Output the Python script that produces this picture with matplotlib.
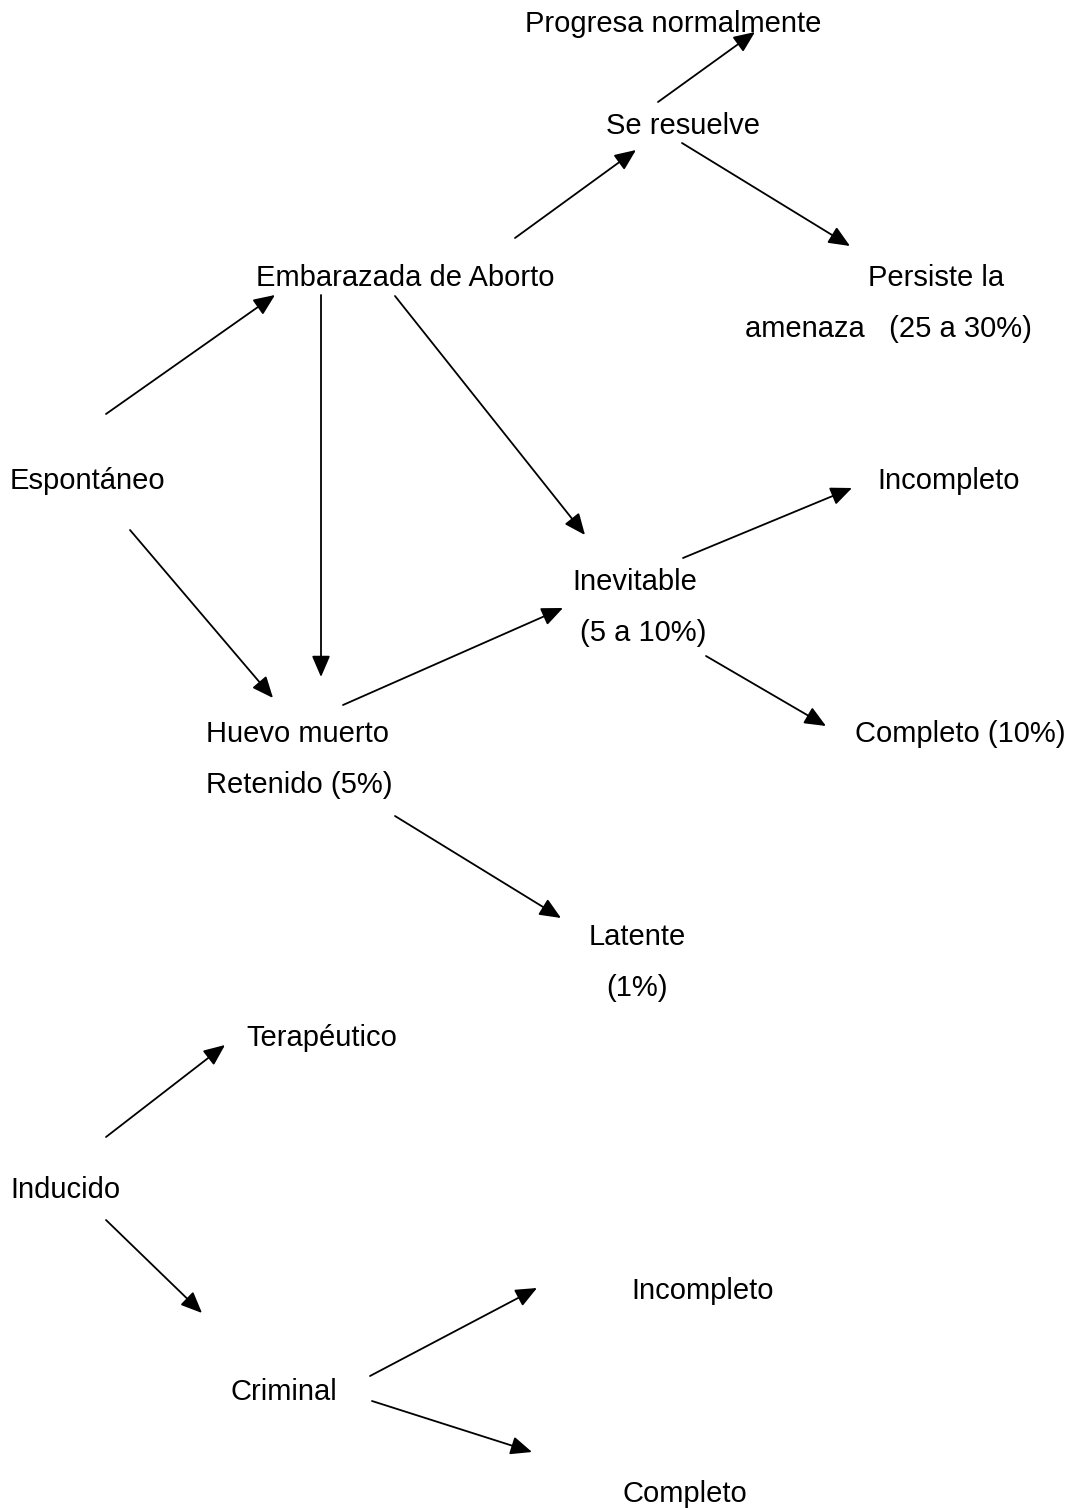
import matplotlib.pyplot as plt

plt.rcParams['font.family'] = ['Liberation Sans', 'DejaVu Sans']

# etiquetas: texto, x izquierda, y centro (en pixeles de la imagen)
labels = ['Progresa normalmente', 'Se resuelve', 'Embarazada de Aborto', 'Persiste la',
          'amenaza   (25 a 30%)', 'Espontáneo', 'Incompleto', 'Inevitable', '(5 a 10%)',
          'Huevo muerto', 'Retenido (5%)', 'Completo (10%)', 'Latente', '(1%)',
          'Terapéutico', 'Inducido', 'Incompleto', 'Criminal', 'Completo']
label_x = [525, 606, 256, 868, 745, 10, 877, 572, 580, 206, 206, 855, 589, 606,
           246, 10, 631, 231, 623]
label_y = [24, 126, 278, 278, 329, 481, 481, 582, 633, 734, 785, 734, 937, 988,
           1038, 1190, 1291, 1392, 1494]

# flechas: inicio (x0, y0) -> punta (x1, y1)
arrow_x0 = [658, 515, 682, 106, 321, 395, 130, 343, 683, 706, 395, 106, 106, 370, 372]
arrow_y0 = [102, 238, 143, 414, 295, 296, 530, 705, 558, 656, 816, 1137, 1220, 1376, 1401]
arrow_x1 = [755, 636, 850, 275, 321, 585, 273, 563, 852, 826, 561, 225, 202, 537, 532]
arrow_y1 = [32, 150, 246, 295, 677, 535, 698, 608, 488, 726, 918, 1045, 1313, 1288, 1452]

fig = plt.figure(figsize=(10.75, 15.08), dpi=100)
ax = fig.add_axes([0, 0, 1, 1])
ax.set_xlim(0, 1075)
ax.set_ylim(1508, 0)
ax.axis('off')

for t, x, y in zip(labels, label_x, label_y):
    ax.text(x, y, t, fontsize=21, ha='left', va='center', color='black')

for x0, y0, x1, y1 in zip(arrow_x0, arrow_y0, arrow_x1, arrow_y1):
    ax.annotate('', xy=(x1, y1), xytext=(x0, y0),
                arrowprops=dict(arrowstyle='-|>,head_length=0.65,head_width=0.28',
                                mutation_scale=20, color='black', lw=1.3,
                                shrinkA=0, shrinkB=0))

fig.savefig('out.png', dpi=100, facecolor='white')
